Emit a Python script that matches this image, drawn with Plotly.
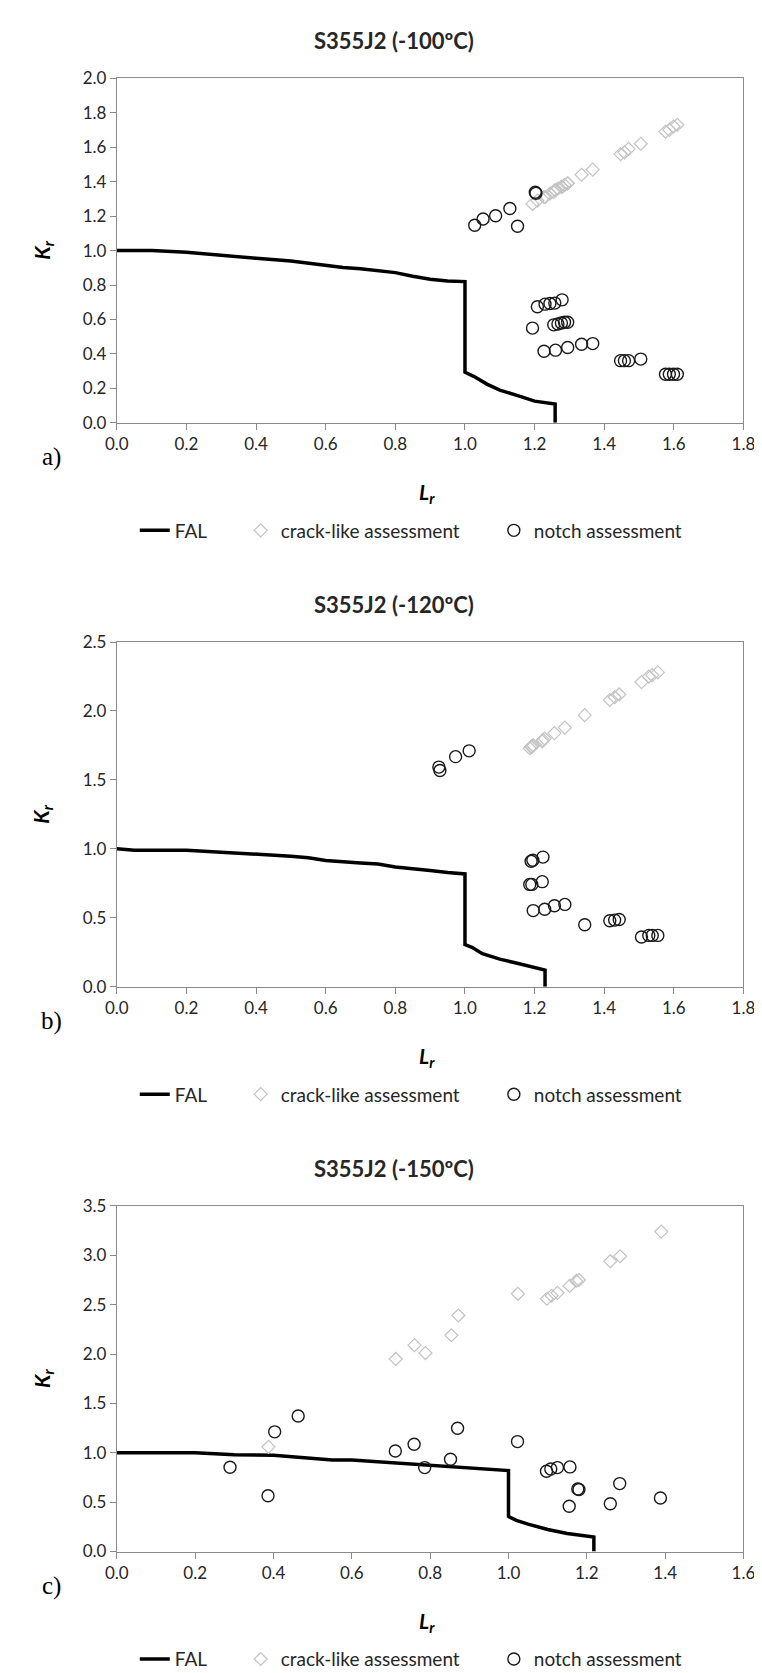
import plotly.graph_objects as go

# ---------------- data ----------------
# Chart a) S355J2 (-100ºC)
fal_a_lr = [0, 0.1, 0.2, 0.3, 0.4, 0.5, 0.55, 0.6, 0.65, 0.7, 0.75, 0.8, 0.85, 0.9, 0.95, 1.0,
            1.0, 1.025, 1.063, 1.1, 1.156, 1.2, 1.259, 1.259]
fal_a_kr = [1.0, 1.0, 0.99, 0.975, 0.955, 0.939, 0.925, 0.914, 0.902, 0.895, 0.881, 0.872, 0.851, 0.834, 0.824, 0.82,
            0.294, 0.27, 0.225, 0.19, 0.155, 0.126, 0.11, 0.0]
crack_a_lr = [1.194, 1.208, 1.227, 1.230, 1.244, 1.255, 1.258, 1.26, 1.267, 1.277, 1.279, 1.286, 1.295, 1.295,
              1.335, 1.367, 1.447, 1.458, 1.47, 1.505, 1.576, 1.587, 1.599, 1.61]
crack_a_kr = [1.27, 1.29, 1.31, 1.31, 1.33, 1.34, 1.35, 1.35, 1.36, 1.37, 1.37, 1.38, 1.39, 1.39,
              1.44, 1.47, 1.56, 1.57, 1.59, 1.62, 1.69, 1.70, 1.72, 1.73]
notch_a_lr = [1.028, 1.052, 1.088, 1.129, 1.151, 1.202, 1.204,
              1.208, 1.230, 1.244, 1.258, 1.279,
              1.194, 1.255, 1.267, 1.277, 1.286, 1.295,
              1.227, 1.26, 1.295, 1.335, 1.367,
              1.447, 1.458, 1.47, 1.505,
              1.576, 1.587, 1.599, 1.61]
notch_a_kr = [1.147, 1.183, 1.202, 1.244, 1.141, 1.338, 1.332,
              0.674, 0.689, 0.693, 0.695, 0.714,
              0.55, 0.569, 0.574, 0.58, 0.584, 0.584,
              0.416, 0.422, 0.437, 0.456, 0.46,
              0.361, 0.361, 0.361, 0.37,
              0.282, 0.282, 0.282, 0.282]

# Chart b) S355J2 (-120ºC)
fal_b_lr = [0, 0.05, 0.2, 0.3, 0.4, 0.5, 0.55, 0.6, 0.7, 0.75, 0.8, 0.85, 0.9, 0.95, 1.0,
            1.0, 1.02, 1.05, 1.1, 1.15, 1.2, 1.23, 1.23]
fal_b_kr = [1.0, 0.99, 0.99, 0.976, 0.964, 0.947, 0.935, 0.915, 0.897, 0.89, 0.868, 0.858, 0.843, 0.828, 0.818,
            0.306, 0.286, 0.239, 0.2, 0.17, 0.138, 0.121, 0.0]
crack_b_lr = [1.186, 1.19, 1.192, 1.195, 1.196, 1.222, 1.224, 1.229, 1.257, 1.287, 1.344,
              1.416, 1.43, 1.443, 1.507, 1.528, 1.538, 1.554]
crack_b_kr = [1.73, 1.74, 1.74, 1.75, 1.75, 1.78, 1.79, 1.80, 1.84, 1.88, 1.97,
              2.08, 2.10, 2.12, 2.21, 2.25, 2.26, 2.28]
notch_b_lr = [0.925, 0.928, 0.973, 1.012, 1.19, 1.195, 1.224, 1.186, 1.192, 1.222, 1.196, 1.229,
              1.257, 1.287, 1.344, 1.416, 1.43, 1.443, 1.507, 1.528, 1.538, 1.554]
notch_b_kr = [1.593, 1.568, 1.669, 1.711, 0.91, 0.917, 0.94, 0.742, 0.742, 0.762, 0.552, 0.562,
              0.587, 0.597, 0.449, 0.478, 0.483, 0.488, 0.36, 0.372, 0.372, 0.372]

# Chart c) S355J2 (-150ºC)
fal_c_lr = [0, 0.2, 0.25, 0.3, 0.4, 0.5, 0.55, 0.6, 0.7, 0.8, 0.9, 0.95, 0.97, 1.0,
            1.0, 1.02, 1.05, 1.1, 1.15, 1.2, 1.218, 1.218]
fal_c_kr = [1.0, 1.0, 0.99, 0.98, 0.974, 0.945, 0.926, 0.926, 0.9, 0.875, 0.853, 0.835, 0.835, 0.82,
            0.355, 0.315, 0.278, 0.223, 0.183, 0.157, 0.146, 0.0]
crack_c_lr = [0.387, 0.712, 0.76, 0.788, 0.854, 0.872, 1.024, 1.098, 1.11, 1.125, 1.156, 1.173, 1.18,
              1.26, 1.285, 1.39]
crack_c_kr = [1.06, 1.95, 2.09, 2.01, 2.19, 2.39, 2.61, 2.56, 2.59, 2.62, 2.69, 2.74, 2.75,
              2.94, 2.99, 3.24]
notch_c_lr = [0.289, 0.386, 0.403, 0.463, 0.711, 0.759, 0.786, 0.852, 0.87, 1.023, 1.097, 1.108,
              1.125, 1.157, 1.177, 1.18, 1.155, 1.26, 1.284, 1.388]
notch_c_kr = [0.853, 0.564, 1.212, 1.373, 1.018, 1.087, 0.85, 0.934, 1.249, 1.113, 0.813, 0.835,
              0.85, 0.857, 0.633, 0.628, 0.458, 0.483, 0.688, 0.542]

titles = ["S355J2 (-100ºC)", "S355J2 (-120ºC)", "S355J2 (-150ºC)"]
panel_labels = ["a)", "b)", "c)"]
x_ranges = [[0, 1.8], [0, 1.8], [0, 1.6]]
y_ranges = [[0, 2.0], [0, 2.5], [0, 3.5]]
y_dticks = [0.2, 0.5, 0.5]
legend_names = ["FAL", "crack-like assessment", "notch assessment"]

# ---------------- layout geometry (pixels) ----------------
W, H = 762, 1673
plot_left, plot_right = 100, 747
plot_tops = [60, 631, 1202]
plot_bottoms = [409, 980, 1552]

def py(p):
    return 1 - p / H

FONT = "Lato, 'Open Sans', sans-serif"
AX = "#8a8a8a"
TXT = "#262626"
PAD = "\u00a0" * 6   # extra gap between legend entries

fig = go.Figure()

series = [
    (fal_a_lr, fal_a_kr, crack_a_lr, crack_a_kr, notch_a_lr, notch_a_kr),
    (fal_b_lr, fal_b_kr, crack_b_lr, crack_b_kr, notch_b_lr, notch_b_kr),
    (fal_c_lr, fal_c_kr, crack_c_lr, crack_c_kr, notch_c_lr, notch_c_kr),
]

annotations = []
for i, (fl, fk, cl, ck, nl, nk) in enumerate(series):
    xa = "x" if i == 0 else f"x{i+1}"
    ya = "y" if i == 0 else f"y{i+1}"
    lg = "legend" if i == 0 else f"legend{i+1}"
    fig.add_trace(go.Scatter(x=fl, y=fk, mode="lines", name=legend_names[0] + PAD,
                             line=dict(color="black", width=3.5),
                             xaxis=xa, yaxis=ya, legend=lg, cliponaxis=False))
    fig.add_trace(go.Scatter(x=cl, y=ck, mode="markers", name=legend_names[1] + PAD,
                             marker=dict(symbol="diamond-open", size=10, color="#c3c3c3",
                                         line=dict(width=1.2, color="#c3c3c3")),
                             xaxis=xa, yaxis=ya, legend=lg))
    fig.add_trace(go.Scatter(x=nl, y=nk, mode="markers", name=legend_names[2],
                             marker=dict(symbol="circle-open", size=12, color="#1a1a1a",
                                         line=dict(width=1.4, color="#1a1a1a")),
                             xaxis=xa, yaxis=ya, legend=lg))

    top, bot = plot_tops[i], plot_bottoms[i]
    suffix = "" if i == 0 else str(i + 1)
    fig.update_layout(**{
        f"xaxis{suffix}": dict(
            domain=[plot_left / W, plot_right / W], range=x_ranges[i], dtick=0.2,
            tickformat=".1f", anchor=ya, showgrid=False, zeroline=False,
            showline=True, linecolor=AX, linewidth=1, mirror=True,
            ticks="outside", ticklen=6, tickcolor=AX,
            tickfont=dict(family=FONT, size=17, color=TXT)),
        f"yaxis{suffix}": dict(
            domain=[py(bot), py(top)], range=y_ranges[i], dtick=y_dticks[i],
            tickformat=".1f", anchor=xa, showgrid=False, zeroline=False,
            showline=True, linecolor=AX, linewidth=1, mirror=True,
            ticks="outside", ticklen=6, tickcolor=AX,
            tickfont=dict(family=FONT, size=17, color=TXT)),
        lg: dict(orientation="h", x=404 / W, xanchor="center", y=py(bot + 109), yanchor="middle",
                 font=dict(family=FONT, size=19, color=TXT), bgcolor="rgba(0,0,0,0)",
                 itemwidth=30, tracegroupgap=0),
    })

    # title
    annotations.append(dict(text=f"<b>{titles[i]}</b>", x=386 / W, y=py(top - 38), xref="paper", yref="paper",
                            showarrow=False, xanchor="center", yanchor="middle",
                            font=dict(family=FONT, size=22, color=TXT)))
    # Kr axis title
    annotations.append(dict(text="<b><i>K<sub>r</sub></i></b>", x=23 / W, y=py((top + bot) / 2),
                            xref="paper", yref="paper", showarrow=False, textangle=-90,
                            xanchor="center", yanchor="middle",
                            font=dict(family=FONT, size=21, color="black")))
    # Lr axis title
    annotations.append(dict(text="<b><i>L<sub>r</sub></i></b>", x=420 / W, y=py(bot + 71),
                            xref="paper", yref="paper", showarrow=False,
                            xanchor="center", yanchor="middle",
                            font=dict(family=FONT, size=21, color="black")))
    # panel label
    annotations.append(dict(text=panel_labels[i], x=33 / W, y=py(bot + 35), xref="paper", yref="paper",
                            showarrow=False, xanchor="center", yanchor="middle",
                            font=dict(family="'Liberation Serif', 'Times New Roman', serif", size=25,
                                      color="black")))

fig.update_layout(
    width=W, height=H,
    margin=dict(l=0, r=0, t=0, b=0),
    paper_bgcolor="white", plot_bgcolor="white",
    annotations=annotations,
)

fig.write_html("out.html")
